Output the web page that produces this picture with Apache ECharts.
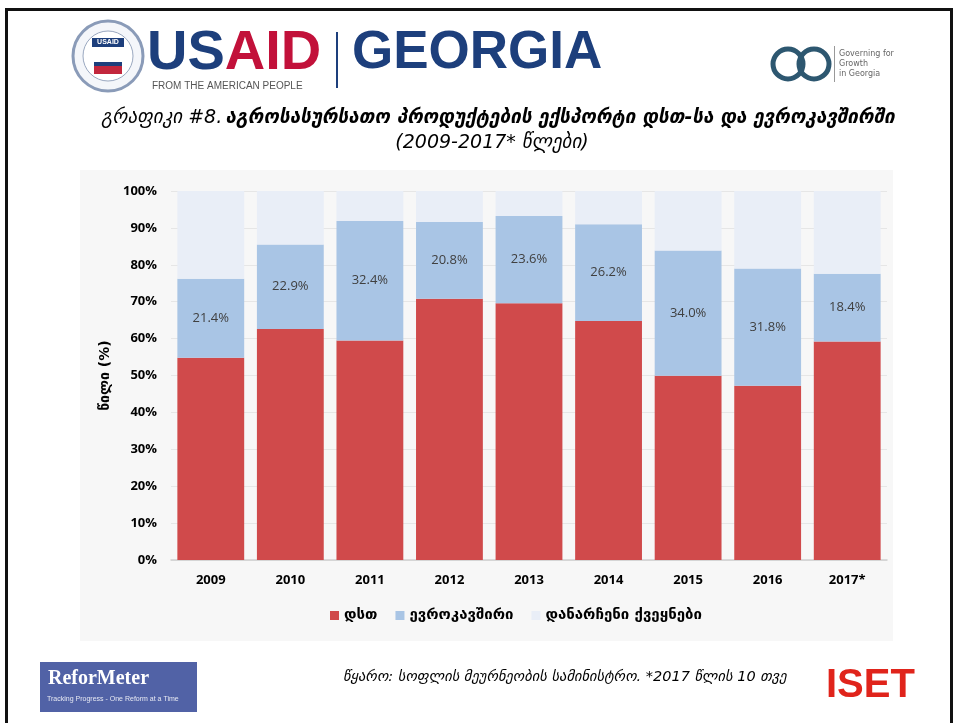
<!DOCTYPE html>
<html>
<head>
<meta charset="utf-8">
<script src="https://cdn.jsdelivr.net/npm/echarts@6/dist/echarts.min.js"></script>
<style>
  html, body { margin: 0; padding: 0; background: #fff; }
  #chart { width: 956px; height: 723px; }
</style>
</head>
<body>
<div id="chart"></div>
<script>
// წლები
const years = ['2009', '2010', '2011', '2012', '2013', '2014', '2015', '2016', '2017*']
// დსთ, ევროკავშირი, დანარჩენი ქვეყნები (%)
const cisShare = [54.8, 62.6, 59.5, 70.8, 69.6, 64.8, 49.9, 47.2, 59.2]
const euShare = [21.4, 22.9, 32.4, 20.8, 23.6, 26.2, 34.0, 31.8, 18.4]
const otherShare = [23.8, 14.5, 8.1, 8.4, 6.8, 9.0, 16.1, 21.0, 22.4]
const seriesNames = ['დსთ', 'ევროკავშირი', 'დანარჩენი ქვეყნები']

const geoFont = 'DejaVu Sans'

const chart = echarts.init(document.getElementById('chart'))

const option = {
  backgroundColor: '#ffffff',
  animation: false,
  graphic: [
    // page frame
    { type: 'rect', shape: { x: 6.5, y: 9.5, width: 945, height: 730 }, style: { fill: 'none', stroke: '#111', lineWidth: 3 }, z: 0 },
    // chart box
    { type: 'rect', shape: { x: 80, y: 170, width: 813, height: 471 }, style: { fill: '#f7f7f7' }, z: -10 },
    // USAID seal
    { type: 'circle', shape: { cx: 108, cy: 56, r: 35 }, style: { fill: '#f4f6fa', stroke: '#8a9bb8', lineWidth: 3 } },
    { type: 'circle', shape: { cx: 108, cy: 56, r: 25 }, style: { fill: '#ffffff', stroke: '#9aa8c0', lineWidth: 1 } },
    { type: 'rect', shape: { x: 92, y: 38, width: 32, height: 9 }, style: { fill: '#1d3f7c' } },
    { type: 'text', style: { text: 'USAID', x: 108, y: 42.5, fill: '#fff', font: 'bold 7px Arial', align: 'center', verticalAlign: 'middle' } },
    { type: 'rect', shape: { x: 94, y: 62, width: 28, height: 12 }, style: { fill: '#c2273d' } },
    { type: 'rect', shape: { x: 94, y: 62, width: 28, height: 4 }, style: { fill: '#1d3f7c' } },
    // USAID | GEORGIA
    { type: 'text', style: { rich: {
        u: { font: 'bold 56px "Liberation Sans"', fill: '#1d3f7c' },
        r: { font: 'bold 56px "Liberation Sans"', fill: '#c2113a' }
      }, text: '{u|US}{r|AID}', x: 147, y: 54, verticalAlign: 'middle' } },
    { type: 'text', style: { text: 'FROM THE AMERICAN PEOPLE', x: 152, y: 86, fill: '#555', font: '10px "Liberation Sans"', verticalAlign: 'middle' } },
    { type: 'rect', shape: { x: 336, y: 32, width: 2, height: 56 }, style: { fill: '#1d3f7c' } },
    { type: 'text', style: { text: 'GEORGIA', x: 352, y: 53, fill: '#1d3f7c', font: 'bold 53px "Liberation Sans"', verticalAlign: 'middle' } },
    // Governing for Growth logo
    { type: 'circle', shape: { cx: 788, cy: 64, r: 15 }, style: { fill: 'none', stroke: '#2d5770', lineWidth: 5 } },
    { type: 'circle', shape: { cx: 814, cy: 64, r: 15 }, style: { fill: 'none', stroke: '#2d5770', lineWidth: 5 } },
    { type: 'rect', shape: { x: 834, y: 46, width: 1, height: 36 }, style: { fill: '#999' } },
    { type: 'text', style: { text: 'Governing for\nGrowth\nin Georgia', x: 839, y: 64, fill: '#666', font: '8px "DejaVu Sans"', lineHeight: 10, verticalAlign: 'middle' } },
    // title
    { type: 'text', style: { rich: {
        a: { font: 'italic 19px "' + geoFont + '"', fill: '#000' },
        b: { font: 'italic bold 19px "' + geoFont + '"', fill: '#000' }
      }, text: '{a|გრაფიკი #8.} {b|აგროსასურსათო პროდუქტების ექსპორტი დსთ-სა და ევროკავშირში}', x: 498, y: 118, align: 'center', verticalAlign: 'middle' } },
    { type: 'text', style: { text: '(2009-2017* წლები)', x: 492, y: 143, fill: '#000', font: 'italic 19px "' + geoFont + '"', align: 'center', verticalAlign: 'middle' } },
    // ReforMeter
    { type: 'rect', shape: { x: 40, y: 662, width: 157, height: 50 }, style: { fill: '#5162a6' } },
    { type: 'text', style: { text: 'ReforMeter', x: 48, y: 679, fill: '#fff', font: 'bold 20px "Liberation Serif"', verticalAlign: 'middle' } },
    { type: 'text', style: { text: 'Tracking Progress - One Reform at a Time', x: 47, y: 699, fill: '#e6e8f2', font: '7px "Liberation Sans"', verticalAlign: 'middle' } },
    // source
    { type: 'text', style: { text: 'წყარო: სოფლის მეურნეობის სამინისტრო. *2017 წლის 10 თვე', x: 343, y: 677, fill: '#000', font: 'italic 14.5px "' + geoFont + '"', verticalAlign: 'middle' } },
    // ISET
    { type: 'text', style: { text: 'ISET', x: 826, y: 686, fill: '#e0241b', font: 'bold 40px "Liberation Sans"', verticalAlign: 'middle' } }
  ],
  legend: {
    data: seriesNames,
    left: 325,
    top: 603,
    itemWidth: 9,
    itemHeight: 9,
    itemGap: 18,
    icon: 'rect',
    textStyle: { fontFamily: geoFont, fontWeight: 'bold', fontSize: 15, color: '#000' }
  },
  grid: { left: 171, right: 69, top: 191, bottom: 163 },
  xAxis: {
    type: 'category',
    data: years,
    axisLine: { lineStyle: { color: '#d0d0d0', width: 1.5 } },
    axisTick: { show: false },
    axisLabel: { color: '#000', fontWeight: 'bold', fontSize: 13, fontFamily: 'Open Sans', margin: 14 }
  },
  yAxis: {
    type: 'value',
    min: 0,
    max: 100,
    interval: 10,
    name: 'წილი (%)',
    nameLocation: 'middle',
    nameGap: 58,
    nameRotate: 90,
    nameTextStyle: { color: '#000', fontWeight: 'bold', fontSize: 14, fontFamily: geoFont },
    axisLine: { show: false },
    axisTick: { show: false },
    splitLine: { lineStyle: { color: '#e6e6e6' } },
    axisLabel: { formatter: '{value}%', color: '#000', fontWeight: 'bold', fontSize: 13, fontFamily: 'Open Sans', margin: 14 }
  },
  series: [
    {
      name: seriesNames[0], type: 'bar', stack: 'all', data: cisShare,
      barCategoryGap: '16%',
      itemStyle: { color: '#d04a4b' }
    },
    {
      name: seriesNames[1], type: 'bar', stack: 'all', data: euShare,
      itemStyle: { color: '#a9c5e5' },
      label: {
        show: true, position: 'inside',
        formatter: p => p.value.toFixed(1) + '%',
        color: '#404040', fontSize: 13, fontFamily: 'Open Sans'
      }
    },
    {
      name: seriesNames[2], type: 'bar', stack: 'all', data: otherShare,
      itemStyle: { color: '#e9eef7' }
    }
  ]
}

chart.setOption(option)
</script>
</body>
</html>
